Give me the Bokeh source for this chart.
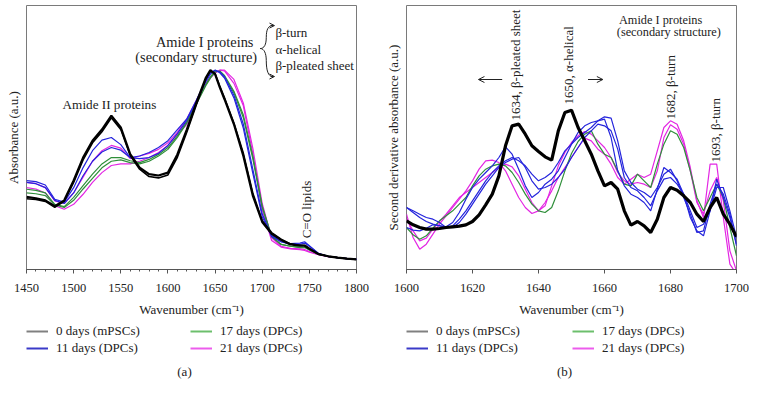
import math
from bokeh.plotting import figure
from bokeh.layouts import row, column
from bokeh.models import (Range1d, Legend, LegendItem, Label, Arrow, OpenHead,
                          FixedTicker, SingleIntervalTicker)
from bokeh.embed import file_html
from bokeh.resources import INLINE

FONT = "Liberation Serif"

# ---------------- panel (a): absorbance spectra ----------------
wn_a = [1450, 1460, 1470, 1480, 1490, 1500, 1510, 1520, 1530, 1540, 1550, 1560, 1570,
        1580, 1590, 1600, 1610, 1620, 1630, 1640, 1645, 1650, 1655, 1660, 1670, 1680,
        1690, 1700, 1710, 1720, 1730, 1740, 1745, 1750, 1760, 1770, 1780, 1790, 1800]

abs_0d_1 = [.275, .270, .262, .240, .262, .337, .424, .488, .530, .583, .538, .437, .386,
            .361, .356, .367, .436, .530, .630, .725, .755, .740, .690, .645, .550, .430,
            .280, .180, .135, .112, .095, .090, .090, .078, .058, .050, .045, .041, .038]
abs_0d_2 = [.268, .265, .258, .236, .258, .330, .415, .480, .522, .575, .530, .432, .380,
            .352, .347, .358, .425, .520, .622, .720, .752, .742, .695, .650, .555, .440,
            .290, .185, .140, .115, .097, .092, .092, .080, .058, .050, .045, .041, .038]
abs_11d_1 = [.337, .333, .320, .266, .255, .310, .386, .450, .490, .500, .473, .424, .430,
             .443, .462, .488, .530, .570, .640, .715, .745, .755, .745, .725, .650, .535,
             .365, .200, .125, .105, .098, .100, .105, .090, .060, .050, .045, .041, .038]
abs_11d_2 = [.330, .325, .310, .262, .250, .290, .355, .410, .445, .462, .452, .424, .420,
             .424, .440, .470, .515, .565, .635, .710, .740, .755, .748, .730, .660, .550,
             .380, .210, .130, .105, .095, .095, .100, .088, .060, .050, .045, .041, .038]
abs_17d_1 = [.304, .300, .290, .247, .238, .273, .318, .361, .400, .424, .424, .412, .405,
             .417, .436, .462, .505, .560, .630, .700, .730, .752, .750, .730, .670, .575,
             .420, .235, .125, .095, .088, .085, .085, .075, .058, .050, .045, .041, .038]
abs_17d_2 = [.290, .287, .280, .245, .235, .262, .305, .345, .385, .410, .415, .405, .400,
             .410, .430, .455, .500, .555, .625, .695, .725, .748, .752, .735, .675, .585,
             .430, .240, .125, .095, .088, .083, .083, .074, .057, .050, .045, .041, .038]
abs_21d_1 = [.310, .305, .290, .242, .228, .247, .285, .330, .367, .394, .400, .400, .410,
             .424, .443, .470, .510, .550, .626, .700, .725, .745, .755, .752, .705, .620,
             .440, .225, .110, .085, .078, .075, .072, .066, .056, .049, .045, .041, .038]
abs_21d_2 = [.330, .325, .310, .260, .250, .290, .350, .410, .450, .470, .460, .420, .430,
             .440, .455, .480, .520, .570, .640, .705, .730, .745, .755, .755, .720, .630,
             .460, .250, .120, .088, .080, .078, .076, .068, .056, .049, .045, .041, .038]

# ---------------- panel (b): second derivative ----------------
wn_b = [1600, 1602, 1604, 1606, 1608, 1610, 1612, 1614, 1616, 1618,
        1620, 1622, 1624, 1626, 1628, 1630, 1632, 1634, 1636, 1638,
        1640, 1642, 1644, 1646, 1648, 1650, 1652, 1654, 1656, 1658,
        1660, 1662, 1664, 1666, 1668, 1670, 1672, 1674, 1676, 1678,
        1680, 1682, 1684, 1686, 1688, 1690, 1692, 1694, 1696, 1698, 1700]

d2_0d = [146, 134, 126, 121, 121, 123, 126, 128, 130, 134,
         144, 164, 194, 226, 281, 371, 431, 436, 406, 371,
         354, 338, 328, 416, 471, 478, 426, 386, 346, 296,
         251, 261, 241, 176, 133, 144, 131, 111, 151, 216,
         246, 238, 221, 201, 166, 144, 186, 216, 166, 136, 98]
d2_11d_1 = [186, 171, 156, 144, 136, 131, 128, 141, 171, 211,
            246, 271, 291, 311, 336, 368, 346, 301, 251, 216,
            231, 256, 271, 296, 336, 376, 411, 431, 441, 446,
            451, 396, 296, 251, 226, 216, 201, 176, 241, 306,
            291, 271, 226, 156, 116, 101, 176, 271, 216, 156, 76]
d2_11d_2 = [186, 176, 166, 156, 151, 141, 126, 126, 141, 166,
            196, 226, 256, 281, 306, 321, 331, 336, 306, 266,
            241, 246, 256, 276, 301, 336, 366, 396, 416, 436,
            431, 416, 361, 276, 246, 236, 216, 191, 236, 271,
            276, 256, 226, 176, 126, 136, 176, 246, 246, 176, 96]
d2_11d_3 = [126, 118, 116, 124, 134, 132, 126, 131, 151, 176,
            206, 236, 266, 291, 311, 326, 336, 326, 311, 286,
            266, 276, 291, 321, 356, 376, 396, 411, 426, 446,
            458, 454, 386, 296, 261, 241, 231, 216, 246, 286,
            301, 266, 216, 166, 111, 116, 196, 256, 226, 166, 71]
d2_17d = [126, 104, 91, 101, 124, 146, 161, 176, 196, 216,
          251, 281, 301, 311, 316, 311, 291, 261, 226, 196,
          176, 171, 186, 236, 296, 348, 384, 406, 416, 376,
          346, 336, 296, 256, 251, 286, 266, 246, 316, 376,
          416, 406, 366, 296, 216, 176, 216, 256, 216, 126, 41]
d2_21d_1 = [166, 96, 61, 76, 106, 136, 161, 186, 211, 236,
            266, 301, 326, 328, 321, 296, 256, 216, 186, 168,
            176, 201, 236, 276, 306, 336, 366, 394, 386, 361,
            346, 316, 276, 256, 271, 286, 276, 286, 356, 426,
            446, 436, 386, 306, 206, 156, 316, 316, 156, 16, -14]
d2_21d_2 = [151, 116, 86, 94, 121, 144, 166, 191, 216, 231,
            246, 261, 276, 291, 306, 316, 308, 281, 241, 201,
            176, 191, 251, 311, 351, 381, 401, 414, 406, 386,
            366, 336, 291, 266, 256, 261, 256, 246, 296, 396,
            434, 421, 376, 296, 201, 166, 236, 276, 206, 56, -4]

labels = ["0 days (mPSCs)", "11 days (DPCs)", "17 days (DPCs)", "21 days (DPCs)"]
colors = ["#000000", "#2424dc", "#2f8f3a", "#e326e3"]
legend_colors = ["#808080", "#3a3ac8", "#6cbf6c", "#ec5cec"]


def base_fig(xr, yr, ylabel, interval, n_minor, left, right):
    p = figure(frame_width=330, frame_height=264, output_backend="svg",
               toolbar_location=None, x_range=Range1d(*xr), y_range=Range1d(*yr),
               min_border_left=left, min_border_right=right, min_border_top=5,
               min_border_bottom=52)
    p.grid.visible = False
    p.outline_line_color = "#7a7a7a"
    p.outline_line_width = 1
    ax = p.xaxis[0]
    ax.ticker = SingleIntervalTicker(interval=interval, num_minor_ticks=n_minor)
    ax.axis_line_color = "#555555"
    ax.major_tick_line_color = "#555555"
    ax.minor_tick_line_color = "#555555"
    ax.major_tick_in = 0
    ax.major_tick_out = 4
    ax.minor_tick_in = 0
    ax.minor_tick_out = 2
    ax.major_label_standoff = 10
    ax.major_label_text_font = FONT
    ax.major_label_text_font_size = "12.5px"
    ax.major_label_text_color = "#222222"
    ax.axis_label = "Wavenumber (cm\u207b\u00b9)"
    ax.axis_label_text_font = FONT
    ax.axis_label_text_font_size = "13px"
    ax.axis_label_text_font_style = "normal"
    ax.axis_label_text_color = "#222222"
    ax.axis_label_standoff = 7
    ay = p.yaxis[0]
    ay.ticker = FixedTicker(ticks=[])
    ay.major_label_text_font_size = "0px"
    ay.axis_line_color = None
    ay.major_tick_line_color = None
    ay.minor_tick_line_color = None
    ay.axis_label = ylabel
    ay.axis_label_text_font = FONT
    ay.axis_label_text_font_size = "13px"
    ay.axis_label_text_font_style = "normal"
    ay.axis_label_text_color = "#222222"
    ay.axis_label_standoff = 6
    return p


def legend_fig(width, x1, x2, tag_x, tag):
    """Strip under a panel that holds its two-column legend and the panel tag."""
    q = figure(width=width, height=75, output_backend="svg", toolbar_location=None,
               x_range=Range1d(0, 1), y_range=Range1d(0, 1),
               min_border=0, x_axis_location=None, y_axis_location=None)
    q.grid.visible = False
    q.outline_line_color = None
    # legend keys only: one undefined point each, nothing is drawn in the strip
    rs = [q.line(x=[math.nan], y=[math.nan], line_color=c, line_width=2)
          for c in legend_colors]
    for xo, idx in ((x1, (0, 1)), (x2, (2, 3))):
        items = [LegendItem(label=labels[i], renderers=[rs[i]]) for i in idx]
        q.add_layout(Legend(items=items, location=(xo, 40), orientation="vertical",
                            padding=0, margin=0, spacing=1, glyph_width=22,
                            glyph_height=14, label_height=14, label_standoff=8,
                            border_line_color=None, background_fill_alpha=0,
                            label_text_font=FONT, label_text_font_size="13px",
                            label_text_color="#222222", label_text_baseline="middle"))
    q.add_layout(Label(x=tag_x, y=25, x_units="screen", y_units="screen", text=tag,
                       text_font=FONT, text_font_size="13px", text_color="#222222",
                       text_align="center", text_baseline="middle"))
    return q


def lab(p, x, y, text, size="13px", angle=0.0, align="center", **kw):
    p.add_layout(Label(x=x, y=y, text=text, text_font=FONT, text_font_size=size,
                       text_color="#222222", angle=angle, text_align=align,
                       text_baseline="middle", **kw))


# ---------------- build panel (a) ----------------
pa = base_fig((1450, 1800), (0, 1), "Absorbance (a.u.)", 50, 5, 26, 21)
for ser, g, w in ((abs_21d_1, 3, 1.2), (abs_21d_2, 3, 1.2), (abs_17d_1, 2, 1.2),
                  (abs_17d_2, 2, 1.2), (abs_11d_1, 1, 1.2), (abs_11d_2, 1, 1.2),
                  (abs_0d_1, 0, 2.2), (abs_0d_2, 0, 1.6)):
    pa.line(wn_a, ser, line_color=colors[g], line_width=w)

lab(pa, 1538, 0.625, "Amide II proteins", "13.2px")
lab(pa, 1639, 0.862, "Amide I proteins", "14.4px")
lab(pa, 1630, 0.805, "(secondary structure)", "14.4px")
lab(pa, 1714, 0.898, "\u03b2-turn", "13px", align="left")
lab(pa, 1714, 0.835, "\u03b1-helical", "13px", align="left")
lab(pa, 1714, 0.773, "\u03b2-pleated sheet", "13px", align="left")
lab(pa, 1747, 0.227, "C=O lipids", "13px", angle=math.pi / 2)
# curly brace with arrows
pa.bezier(x0=[1697.9, 1704.3, 1697.9, 1704.3], y0=[.837, .879, .837, .792],
          x1=[1704.3, 1711.0, 1704.3, 1711.0], y1=[.879, .924, .792, .731],
          cx0=[1702.1, 1704.3, 1702.1, 1704.3], cy0=[.837, .909, .837, .754],
          cx1=[1704.3, 1706.4, 1704.3, 1706.4], cy1=[.852, .924, .818, .731],
          line_color="#222222", line_width=1)
for yy in (.924, .731):
    pa.add_layout(Arrow(end=OpenHead(size=5, line_width=1, line_color="#222222"),
                        x_start=1709, y_start=yy, x_end=1713, y_end=yy,
                        line_color="#222222", line_width=1))

# ---------------- build panel (b) ----------------
pb = base_fig((1600, 1700), (0, 792), "Second derivative absorbance (a.u.)", 20, 1, 29, 13)
for ser, g, w in ((d2_21d_1, 3, 1.2), (d2_21d_2, 3, 1.2), (d2_17d, 2, 1.2),
                  (d2_11d_1, 1, 1.2), (d2_11d_2, 1, 1.2), (d2_11d_3, 1, 1.2),
                  (d2_0d, 0, 3.2)):
    pb.line(wn_b, ser, line_color=colors[g], line_width=w)

lab(pb, 1633.0, 447, "1634, \u03b2-pleated sheet", angle=math.pi / 2, align="left")
lab(pb, 1649.1, 495, "1650, \u03b1-helical", angle=math.pi / 2, align="left")
lab(pb, 1680.0, 450, "1682, \u03b2-turn", angle=math.pi / 2, align="left")
lab(pb, 1693.6, 321, "1693, \u03b2-turn", angle=math.pi / 2, align="left")
lab(pb, 1677, 750, "Amide I proteins", "12.3px")
lab(pb, 1679.5, 714, "(secondary structure)", "12.3px")
for xs, xe in ((1629.0, 1621.8), (1655.0, 1659.5)):
    pb.add_layout(Arrow(end=OpenHead(size=6, line_width=1, line_color="#222222"),
                        x_start=xs, y_start=570, x_end=xe, y_end=570,
                        line_color="#222222", line_width=1))

la = legend_fig(377, 26, 190, 184, "(a)")
lb = legend_fig(372, 29, 195, 187, "(b)")

layout = column(row(pa, pb), row(la, lb))
open("out.html", "w").write(file_html(layout, INLINE))
